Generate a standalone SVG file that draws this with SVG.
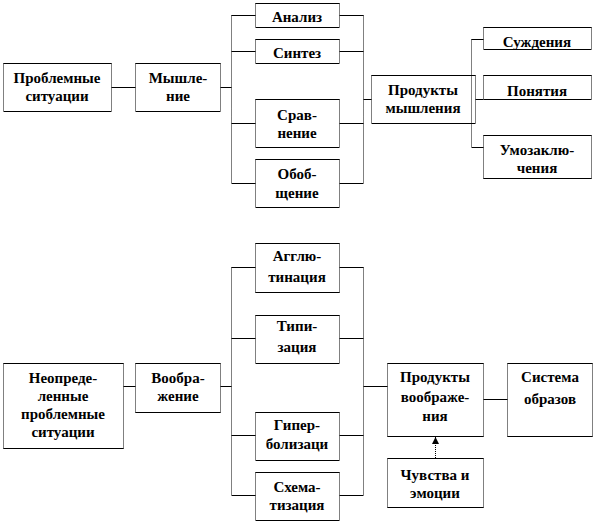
<svg xmlns="http://www.w3.org/2000/svg" width="594" height="522" viewBox="0 0 594 522" font-family="'Liberation Serif', 'DejaVu Serif', 'Times New Roman', serif">
<defs>
<style>
.bg{fill:#fff;stroke:none}
.h{fill:none;stroke:#000;stroke-width:1}
.v{fill:none;stroke:#000;stroke-width:1;stroke-dasharray:1 1}
.c{fill:none;stroke:#000;stroke-width:1}
.cd{fill:none;stroke:#000;stroke-width:1;stroke-dasharray:1 1}
text{font-size:15px;font-weight:bold;fill:#000;text-anchor:middle}
</style>
<marker id="ah" viewBox="0 0 8 8" refX="8" refY="4" markerWidth="7" markerHeight="7" orient="auto" markerUnits="userSpaceOnUse">
<path d="M0,0 L8,4 L0,8 z" fill="#000"/>
</marker>
</defs>
<rect width="594" height="522" fill="#fff"/>

<g id="nodes">
<g id="problem">
<rect class="bg" x="3.5" y="63.5" width="108" height="48"/>
<path class="h" d="M3.5,63.5H111.5M3.5,111.5H111.5"/><path class="v" d="M3.5,63.5V111.5M111.5,63.5V111.5"/>
<text x="57" y="83">Проблемные</text><text x="57" y="101">ситуации</text>
</g>
<g id="thinking">
<rect class="bg" x="135.5" y="63.5" width="85" height="48"/>
<path class="h" d="M135.5,63.5H220.5M135.5,111.5H220.5"/><path class="v" d="M135.5,63.5V111.5M220.5,63.5V111.5"/>
<text x="178" y="83">Мышле-</text><text x="178" y="101">ние</text>
</g>
<g id="analysis">
<rect class="bg" x="255.5" y="3.5" width="84" height="24"/>
<path class="h" d="M255.5,3.5H339.5M255.5,27.5H339.5"/><path class="v" d="M255.5,3.5V27.5M339.5,3.5V27.5"/>
<text x="297" y="22">Анализ</text>
</g>
<g id="synthesis">
<rect class="bg" x="255.5" y="39.5" width="84" height="24"/>
<path class="h" d="M255.5,39.5H339.5M255.5,63.5H339.5"/><path class="v" d="M255.5,39.5V63.5M339.5,39.5V63.5"/>
<text x="297" y="58">Синтез</text>
</g>
<g id="comparison">
<rect class="bg" x="255.5" y="99.5" width="84" height="48"/>
<path class="h" d="M255.5,99.5H339.5M255.5,147.5H339.5"/><path class="v" d="M255.5,99.5V147.5M339.5,99.5V147.5"/>
<text x="297" y="120">Срав-</text><text x="297" y="138">нение</text>
</g>
<g id="generalization">
<rect class="bg" x="255.5" y="159.5" width="84" height="48"/>
<path class="h" d="M255.5,159.5H339.5M255.5,207.5H339.5"/><path class="v" d="M255.5,159.5V207.5M339.5,159.5V207.5"/>
<text x="297" y="179">Обоб-</text><text x="297" y="198">щение</text>
</g>
<g id="thought-products">
<rect class="bg" x="371.5" y="75.5" width="104" height="48"/>
<path class="h" d="M371.5,75.5H475.5M371.5,123.5H475.5"/><path class="v" d="M371.5,75.5V123.5M475.5,75.5V123.5"/>
<text x="423" y="95">Продукты</text><text x="423" y="113">мышления</text>
</g>
<g id="judgments">
<rect class="bg" x="483.5" y="27.5" width="108" height="22"/>
<path class="h" d="M483.5,27.5H591.5M483.5,49.5H591.5"/><path class="v" d="M483.5,27.5V49.5M591.5,27.5V49.5"/>
<text x="537" y="47">Суждения</text>
</g>
<g id="concepts">
<rect class="bg" x="483.5" y="75.5" width="108" height="24"/>
<path class="h" d="M483.5,75.5H591.5M483.5,99.5H591.5"/><path class="v" d="M483.5,75.5V99.5M591.5,75.5V99.5"/>
<text x="537" y="96">Понятия</text>
</g>
<g id="inferences">
<rect class="bg" x="483.5" y="135.5" width="108" height="43"/>
<path class="h" d="M483.5,135.5H591.5M483.5,178.5H591.5"/><path class="v" d="M483.5,135.5V178.5M591.5,135.5V178.5"/>
<text x="537" y="155">Умозаклю-</text><text x="537" y="173">чения</text>
</g>

<g id="uncertain">
<rect class="bg" x="3.5" y="363.5" width="120" height="85"/>
<path class="h" d="M3.5,363.5H123.5M3.5,448.5H123.5"/><path class="v" d="M3.5,363.5V448.5M123.5,363.5V448.5"/>
<text x="63" y="383">Неопреде-</text><text x="63" y="401">ленные</text><text x="63" y="419">проблемные</text><text x="63" y="437">ситуации</text>
</g>
<g id="imagination">
<rect class="bg" x="135.5" y="363.5" width="85" height="49"/>
<path class="h" d="M135.5,363.5H220.5M135.5,412.5H220.5"/><path class="v" d="M135.5,363.5V412.5M220.5,363.5V412.5"/>
<text x="178" y="383">Вообра-</text><text x="178" y="401">жение</text>
</g>
<g id="agglutination">
<rect class="bg" x="255.5" y="243.5" width="84" height="49"/>
<path class="h" d="M255.5,243.5H339.5M255.5,292.5H339.5"/><path class="v" d="M255.5,243.5V292.5M339.5,243.5V292.5"/>
<text x="297" y="261">Агглю-</text><text x="297" y="282">тинация</text>
</g>
<g id="typization">
<rect class="bg" x="255.5" y="315.5" width="84" height="48"/>
<path class="h" d="M255.5,315.5H339.5M255.5,363.5H339.5"/><path class="v" d="M255.5,315.5V363.5M339.5,315.5V363.5"/>
<text x="297" y="331">Типи-</text><text x="297" y="352">зация</text>
</g>
<g id="hyperbolization">
<rect class="bg" x="255.5" y="412.5" width="84" height="48"/>
<path class="h" d="M255.5,412.5H339.5M255.5,460.5H339.5"/><path class="v" d="M255.5,412.5V460.5M339.5,412.5V460.5"/>
<text x="297" y="430">Гипер-</text><text x="297" y="449">болизаци</text>
</g>
<g id="schematization">
<rect class="bg" x="255.5" y="472.5" width="84" height="48"/>
<path class="h" d="M255.5,472.5H339.5M255.5,520.5H339.5"/><path class="v" d="M255.5,472.5V520.5M339.5,472.5V520.5"/>
<text x="297" y="492">Схема-</text><text x="297" y="510">тизация</text>
</g>
<g id="imagination-products">
<rect class="bg" x="387.5" y="363.5" width="96" height="73"/>
<path class="h" d="M387.5,363.5H483.5M387.5,436.5H483.5"/><path class="v" d="M387.5,363.5V436.5M483.5,363.5V436.5"/>
<text x="435" y="382">Продукты</text><text x="435" y="402">воображе-</text><text x="435" y="421">ния</text>
</g>
<g id="image-system">
<rect class="bg" x="507.5" y="363.5" width="85" height="73"/>
<path class="h" d="M507.5,363.5H592.5M507.5,436.5H592.5"/><path class="v" d="M507.5,363.5V436.5M592.5,363.5V436.5"/>
<text x="550" y="382">Система</text><text x="550" y="404">образов</text>
</g>
<g id="feelings">
<rect class="bg" x="387.5" y="458.5" width="96" height="49"/>
<path class="h" d="M387.5,458.5H483.5M387.5,507.5H483.5"/><path class="v" d="M387.5,458.5V507.5M483.5,458.5V507.5"/>
<text x="435" y="480">Чувства и</text><text x="435" y="498">эмоции</text>
</g>
</g>

<g id="connectors">
<path class="c" d="M111.5,87.5H135.5M220.5,87.5H231.5"/>
<path class="cd" d="M231.5,15.5V183.5"/>
<path class="c" d="M231.5,15.5H255.5M231.5,51.5H255.5M231.5,123.5H255.5M231.5,183.5H255.5"/>
<path class="c" d="M339.5,15.5H363.5M339.5,51.5H363.5M339.5,123.5H363.5M339.5,183.5H363.5"/>
<path class="cd" d="M363.5,15.5V183.5"/>
<path class="c" d="M363.5,99.5H371.5"/>
<path class="cd" d="M471.5,39.5V147.5"/>
<path class="c" d="M471.5,39.5H483.5M475.5,99.5H483.5M471.5,147.5H483.5"/>

<path class="c" d="M123.5,386.5H135.5M220.5,386.5H231.5"/>
<path class="cd" d="M231.5,267.5V495.5"/>
<path class="c" d="M231.5,267.5H255.5M231.5,338.5H255.5M231.5,435.5H255.5M231.5,495.5H255.5"/>
<path class="c" d="M339.5,267.5H363.5M339.5,338.5H363.5M339.5,435.5H363.5M339.5,495.5H363.5"/>
<path class="cd" d="M363.5,267.5V495.5"/>
<path class="c" d="M363.5,386.5H387.5"/>
<path class="c" d="M483.5,399.5H507.5"/>
<path class="cd" d="M435.5,458V437" marker-end="url(#ah)"/>
</g>
</svg>
